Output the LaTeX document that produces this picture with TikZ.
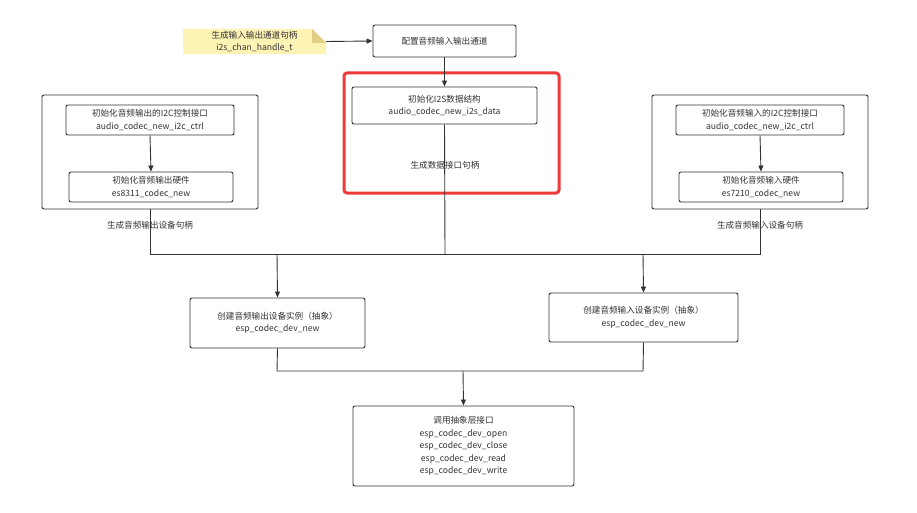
\documentclass[tikz,border=0pt]{standalone}
\usepackage{fontspec}
\setmainfont{Noto Sans CJK SC}
\usetikzlibrary{arrows.meta}
\definecolor{ln}{HTML}{333333}
\definecolor{notey}{HTML}{FDF3B4}
\definecolor{fold}{HTML}{E2CD85}
\definecolor{redb}{HTML}{F03A3A}
\tikzset{
  bx/.style={draw=ln,line width=0.9pt,rounded corners=2pt,align=center,inner sep=0pt,font=\fontsize{8.6}{12.5}\selectfont,text=ln},
  lbl/.style={font=\fontsize{8.6}{12.5}\selectfont,text=ln,inner sep=0pt},
  ar/.style={draw=ln,line width=0.9pt,-{Triangle[length=6pt,width=5pt]}},
  ln/.style={draw=ln,line width=0.9pt},
}
\begin{document}
\begin{tikzpicture}[x=1pt,y=-1pt]
\useasboundingbox (0,0) rectangle (917,513);
\fill[white] (0,0) rectangle (917,513);
% note
\fill[notey] (183,29) -- (312,29) -- (326,43) -- (326,54) -- (183,54) -- cycle;
\fill[fold] (312,29) -- (312,43) -- (326,43) -- cycle;
\node[lbl,align=center] (note) at (254.5,41.5) {生成输入输出通道句柄\\i2s\_chan\_handle\_t};
\coordinate (noteR) at (326,41.5);
\node[bx,minimum width=143,minimum height=32] (cfg) at (444.5,41) {配置音频输入输出通道};
\draw[ar] (noteR) -- (cfg.west);
% red box
\node[draw=redb,line width=3pt,rounded corners=3pt,minimum width=215,minimum height=120,inner sep=0pt] (red) at (451.5,133) {};
\node[bx,minimum width=185,minimum height=37] (i2s) at (444.5,105.5) {初始化I2S数据结构\\audio\_codec\_new\_i2s\_data};
\draw[ar] (cfg.south) -- (i2s.north);
\node[lbl] (l2) at (445,165) {生成数据接口句柄};
% left group
\node[bx,minimum width=216,minimum height=114] (lo) at (150,152) {};
\node[bx,minimum width=168,minimum height=30] (li1) at (150,120) {初始化音频输出的I2C控制接口\\audio\_codec\_new\_i2c\_ctrl};
\node[bx,minimum width=164,minimum height=30] (li2) at (151,187) {初始化音频输出硬件\\es8311\_codec\_new};
\draw[ar] (li1.south) -- (li2.north);
\node[lbl] (l1) at (150,225) {生成音频输出设备句柄};
% right group
\node[bx,minimum width=216,minimum height=114] (ro) at (760,152) {};
\node[bx,minimum width=168,minimum height=30] (ri1) at (760,120) {初始化音频输入的I2C控制接口\\audio\_codec\_new\_i2c\_ctrl};
\node[bx,minimum width=164,minimum height=30] (ri2) at (761,187) {初始化音频输入硬件\\es7210\_codec\_new};
\draw[ar] (ri1.south) -- (ri2.north);
\node[lbl] (l3) at (760,225) {生成音频输入设备句柄};
% bus
\coordinate (bL) at (150,254);
\coordinate (bR) at (760,254);
\coordinate (bM) at (445,254);
\coordinate (b1) at (277,254);
\coordinate (b2) at (643,254);
\draw[ln] (lo.south) -- (bL) -- (bR) -- (ro.south);
\draw[ln] (i2s.south) -- (bM);
\node[bx,minimum width=175,minimum height=50] (ob) at (277.5,323) {创建音频输出设备实例（抽象）\\esp\_codec\_dev\_new};
\node[bx,minimum width=189,minimum height=49] (ib) at (643.5,317.5) {创建音频输入设备实例（抽象）\\esp\_codec\_dev\_new};
\draw[ar] (b1) -- (ob.north);
\draw[ar] (b2) -- (ib.north);
\coordinate (c1) at (277,371);
\coordinate (c2) at (643,371);
\coordinate (cM) at (463,371);
\draw[ln] (ob.south) -- (c1) -- (c2) -- (ib.south);
\node[bx,minimum width=221,minimum height=80] (api) at (463.5,446) {调用抽象层接口\\esp\_codec\_dev\_open\\esp\_codec\_dev\_close\\esp\_codec\_dev\_read\\esp\_codec\_dev\_write};
\draw[ar] (cM) -- (api.north);
\end{tikzpicture}
\end{document}
